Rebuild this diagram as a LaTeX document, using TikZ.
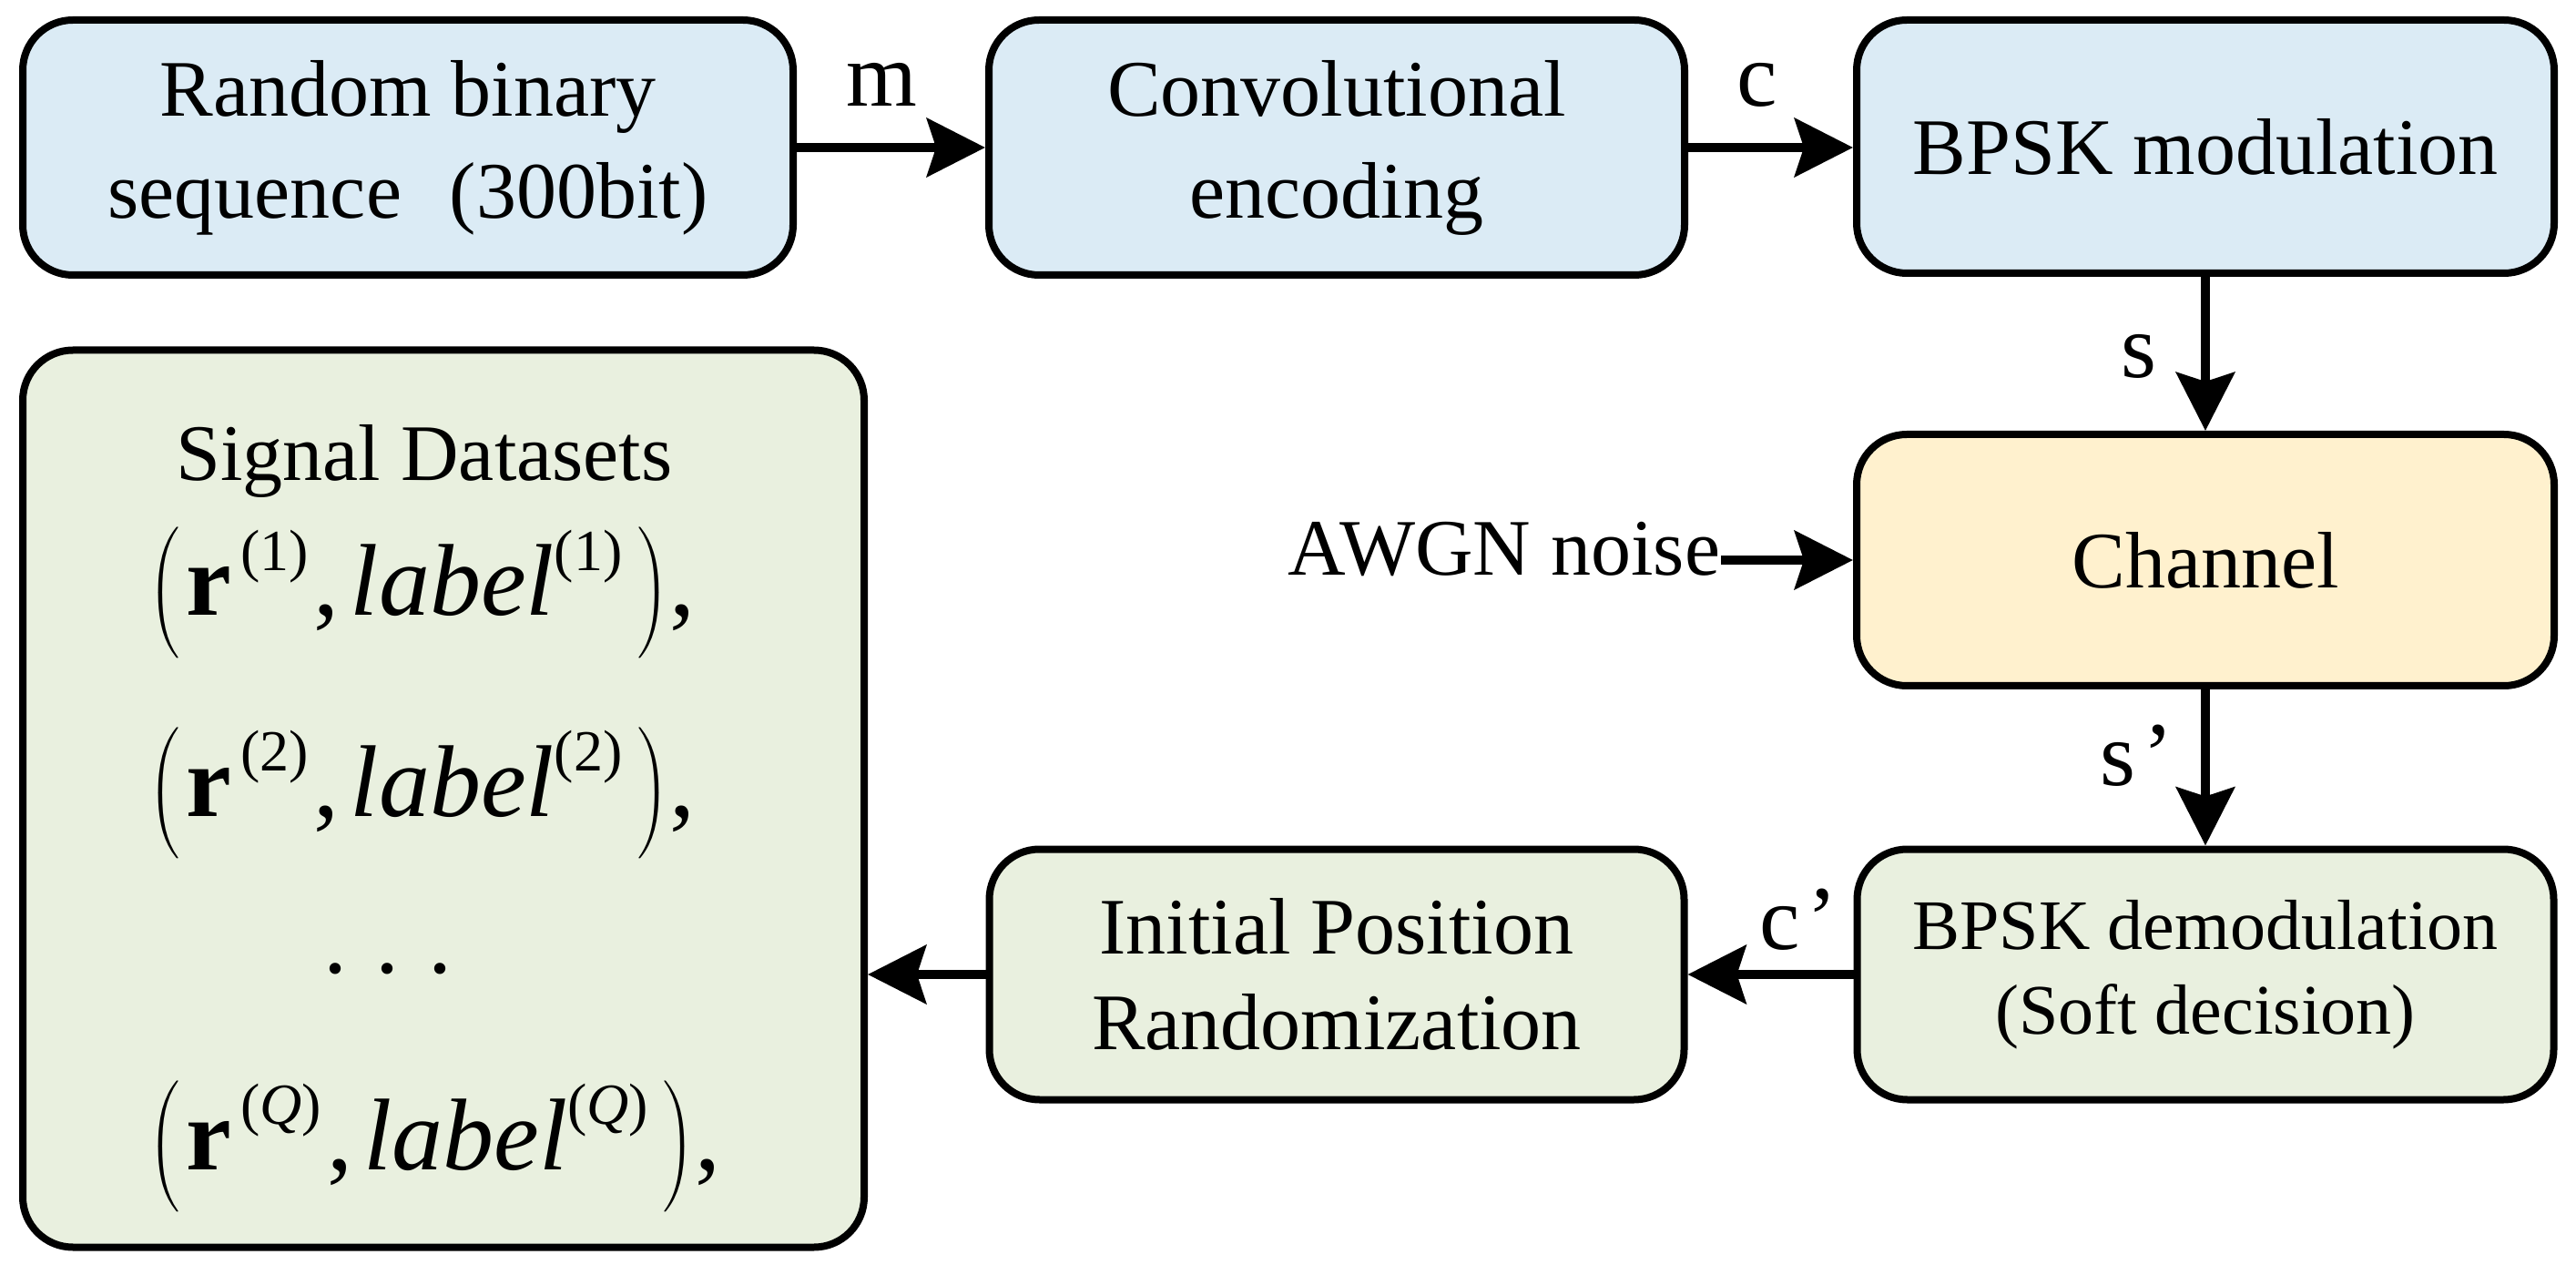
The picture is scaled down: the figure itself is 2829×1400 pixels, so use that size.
\documentclass[tikz,border=0pt]{standalone}
\usepackage{fontspec}
\setmainfont{Liberation Serif}
\usetikzlibrary{arrows.meta}
\definecolor{bluef}{RGB}{219,235,245}
\definecolor{orangef}{RGB}{255,241,206}
\definecolor{greenf}{RGB}{233,240,223}
\newcommand{\supp}[1]{\raisebox{12.5pt}{\fontsize{16}{16}\selectfont(#1)}}
\newcommand{\lpar}{$\left(\vrule height 26pt depth 13pt width 0pt\right.$}
\newcommand{\rpar}{$\left.\vrule height 26pt depth 13pt width 0pt\right)$}
\newcommand{\pairline}[1]{\lpar\kern0.5pt\textbf{r}\kern2.5pt\supp{#1}\kern1.5pt,\kern3pt\textit{label}\supp{#1}\kern3pt\rpar,}
\tikzset{
  box/.style={draw=black, line width=2pt, rounded corners=13.75pt, align=center, inner sep=0pt},
  bigtxt/.style={font=\fontsize{22}{28}\selectfont},
  midtxt/.style={font=\fontsize{19.5}{23.25}\selectfont},
  lab/.style={font=\fontsize{25}{25}\selectfont, inner sep=0pt},
  mathtxt/.style={font=\fontsize{28}{30}\selectfont, inner sep=0pt},
  arr/.style={line width=2.5pt, -{Stealth[length=16pt,width=16pt,inset=2.5pt]}},
}
\begin{document}
\begin{tikzpicture}[x=0.25pt, y=-0.25pt]
\useasboundingbox (0,0) rectangle (2829,1400);
% boxes
\node[box, bigtxt, fill=bluef, minimum width=211.5pt, minimum height=70pt] (b1) at (448,162)
  {Random binary\\sequence\hspace{0.6em}(300bit)};
\node[box, bigtxt, fill=bluef, minimum width=191pt, minimum height=70pt] (b2) at (1468,162)
  {Convolutional\\encoding};
\node[box, bigtxt, fill=bluef, minimum width=191.5pt, minimum height=69.5pt] (b3) at (2422,161)
  {BPSK modulation};
\node[box, bigtxt, fill=orangef, minimum width=191.5pt, minimum height=69pt] (ch) at (2422,615)
  {Channel};
\node[box, midtxt, fill=greenf, minimum width=191.25pt, minimum height=68.75pt] (dm) at (2422,1070)
  {BPSK demodulation\\(Soft decision)};
\node[box, font=\fontsize{22}{26.25}\selectfont, fill=greenf, minimum width=190.75pt, minimum height=68.75pt] (ip) at (1468,1070)
  {Initial Position\\Randomization};
\node[box, fill=greenf, minimum width=231pt, minimum height=246.25pt] (sd) at (487,877) {};
% dataset contents
\node[bigtxt, inner sep=0pt, anchor=base] (title) at (466,528) {Signal Datasets};
\node[mathtxt, anchor=base west] (l1) at (162,676) {\pairline{1}};
\node[mathtxt, anchor=base west] (l2) at (162,896) {\pairline{2}};
\node[font=\fontsize{26}{26}\selectfont, inner sep=0pt] (dots) at (426,1064) {.\hspace{8pt}.\hspace{8pt}.};
\node[mathtxt, anchor=base west] (lq) at (162,1284) {\pairline{\textit{Q}}};
% noise
\node[bigtxt, inner sep=0pt, anchor=base east] (awgn) at (1890,632) {AWGN noise};
% labels
\node[lab, anchor=base] (lm) at (968,117) {m};
\node[lab, anchor=base] (lc) at (1930,117) {c};
\node[lab, anchor=base] (ls) at (2349,415) {s};
\node[lab, anchor=base] (lsp) at (2347,862) {s\kern2pt’};
\node[lab, anchor=base] (lcp) at (1975,1042) {c\kern2pt’};
% connectors
\draw[arr] (b1.east) -- (b2.west);
\draw[arr] (b2.east) -- (b2.east -| b3.west);
\draw[arr] (b3.south) -- (ch.north);
\draw[arr] (awgn.east |- ch.west) -- (ch.west);
\draw[arr] (ch.south) -- (dm.north);
\draw[arr] (dm.west) -- (ip.east);
\draw[arr] (ip.west) -- (ip.west -| sd.east);
\end{tikzpicture}
\end{document}
